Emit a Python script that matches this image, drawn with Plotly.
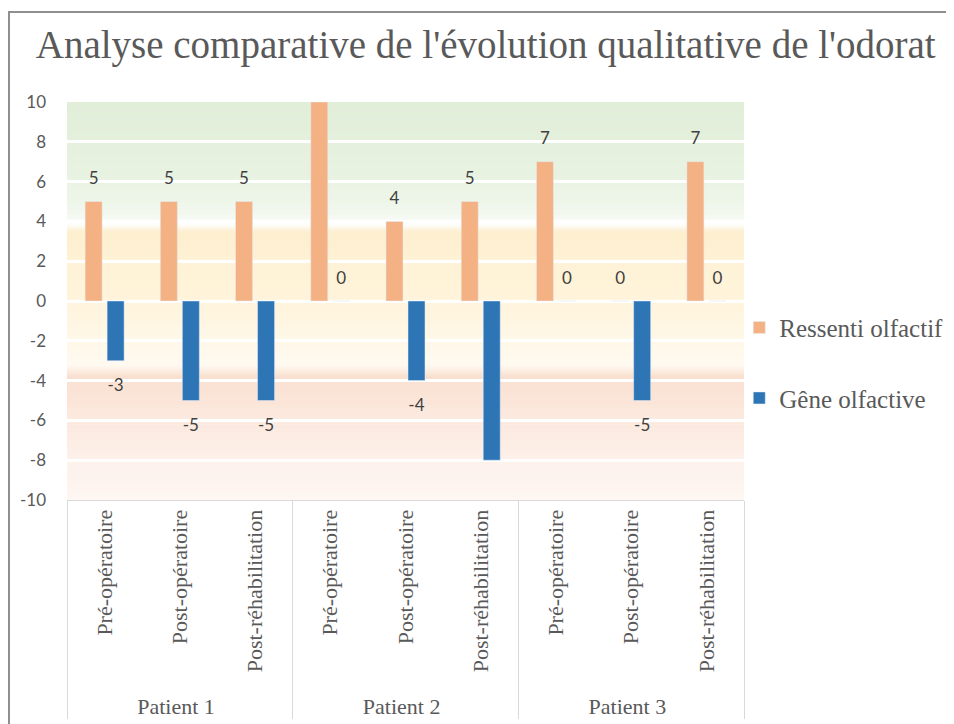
import plotly.graph_objects as go

# ---------------- data ----------------
patients = ["Patient 1"] * 3 + ["Patient 2"] * 3 + ["Patient 3"] * 3
phases = ["Pré-opératoire", "Post-opératoire", "Post-réhabilitation"] * 3
ressenti = [5, 5, 5, 10, 4, 5, 7, 0, 7]
gene = [-3, -5, -5, 0, -4, -8, 0, -5, 0]
y_ticks = [-10, -8, -6, -4, -2, 0, 2, 4, 6, 8, 10]

title_text = "Analyse comparative de l'évolution qualitative de l'odorat"
name_r = "Ressenti olfactif"
name_g = "Gêne olfactive"

# ---------------- style ----------------
ORANGE = "#F4B183"
BLUE = "#2E75B6"
GREY = "#595959"
LABEL = "#404040"
SERIF = "Liberation Serif, Times New Roman, serif"
SANS = "Lato, Calibri, sans-serif"
LABEL_OFF = 2.4  # vertical distance of data labels from bar end (axis units)

# background gradient colour stops (value, colour)
bg_stops = [
    (10.0, "#e1eed8"), (8.0, "#e4f0dc"), (6.0, "#e9f3e3"), (4.4, "#f1f7ed"),
    (3.85, "#fdfefc"), (3.45, "#fdeecd"), (2.0, "#fef1d3"), (0.0, "#fff4dc"),
    (-2.0, "#fff8e8"), (-3.2, "#fffaf1"), (-3.9, "#f8dccb"), (-4.0, "#fae2d3"),
    (-6.0, "#fbe8dd"), (-8.0, "#fdf0e9"), (-10.0, "#fef7f3"),
]


def hex2rgb(h):
    h = h.lstrip("#")
    return tuple(int(h[i:i + 2], 16) for i in (0, 2, 4))


def colour_at(v):
    for (v1, c1), (v2, c2) in zip(bg_stops[:-1], bg_stops[1:]):
        if v2 <= v <= v1:
            t = 0 if v1 == v2 else (v1 - v) / (v1 - v2)
            a, b = hex2rgb(c1), hex2rgb(c2)
            r = [round(a[i] + (b[i] - a[i]) * t) for i in range(3)]
            return "rgb(%d,%d,%d)" % tuple(r)
    return bg_stops[-1][1]


shapes = []
step = 0.1
n = int(round(20 / step))
for i in range(n):
    y1 = 10 - i * step
    y0 = y1 - step
    shapes.append(dict(type="rect", xref="paper", yref="y", x0=0, x1=1,
                       y0=y0 - 0.02, y1=y1, layer="below", line=dict(width=0),
                       fillcolor=colour_at((y0 + y1) / 2)))

# outer frame of the chart area
shapes.append(dict(type="rect", xref="paper", yref="paper", x0=-0.0857, x1=1.6,
                   y0=-1.0, y1=1.226, layer="above",
                   line=dict(color="#8f8f8f", width=2), fillcolor="rgba(0,0,0,0)"))

x = [patients, phases]

fig = go.Figure()
fig.add_trace(go.Bar(x=x, y=ressenti, name=name_r, marker_color=ORANGE,
                     offsetgroup="r", legendgroup="r", hoverinfo="y"))
fig.add_trace(go.Bar(x=x, y=gene, name=name_g, marker_color=BLUE,
                     offsetgroup="g", legendgroup="g", hoverinfo="y"))

# data labels: transparent bars whose centre sits LABEL_OFF/2 beyond the bar end
for vals, grp in ((ressenti, "r"), (gene, "g")):
    fig.add_trace(go.Bar(
        x=x, base=vals, y=[LABEL_OFF if v >= 0 else -LABEL_OFF for v in vals],
        offsetgroup=grp, showlegend=False, hoverinfo="skip",
        marker=dict(color="rgba(0,0,0,0)", line=dict(width=0)),
        text=[str(v) for v in vals], textposition="inside",
        insidetextanchor="middle", textangle=0, constraintext="none",
        textfont=dict(family=SANS, size=17, color=LABEL), cliponaxis=False))

fig.update_layout(
    width=946, height=716, autosize=False,
    margin=dict(l=59, r=210, t=94, b=224, autoexpand=False),
    paper_bgcolor="white", plot_bgcolor="rgba(0,0,0,0)",
    barmode="group", bargap=0.415, bargroupgap=0.227,
    title=dict(text=title_text, x=0.505, xref="container", xanchor="center",
               y=0.949, yref="container", yanchor="middle",
               font=dict(family=SERIF, size=39, color=GREY)),
    legend=dict(x=0.993, xanchor="left", y=0.345, yanchor="middle",
                font=dict(family=SERIF, size=25, color=GREY),
                tracegroupgap=35, itemwidth=30, bgcolor="rgba(0,0,0,0)"),
    shapes=shapes,
    showlegend=True,
)

fig.update_yaxes(range=[-10, 10], tickvals=y_ticks, ticktext=[str(t) for t in y_ticks],
                 showgrid=True, gridcolor="white", gridwidth=3, zeroline=False,
                 showline=False, ticks="", ticklabelstandoff=20,
                 tickfont=dict(family=SANS, size=17, color=GREY))
fig.update_xaxes(type="multicategory", tickangle=-90, showgrid=False,
                 showline=True, linecolor="#d9d9d9", linewidth=1, ticks="",
                 showdividers=True, dividercolor="#d9d9d9", dividerwidth=1,
                 tickfont=dict(family=SERIF, size=22, color=GREY))

fig.write_html("out.html")
